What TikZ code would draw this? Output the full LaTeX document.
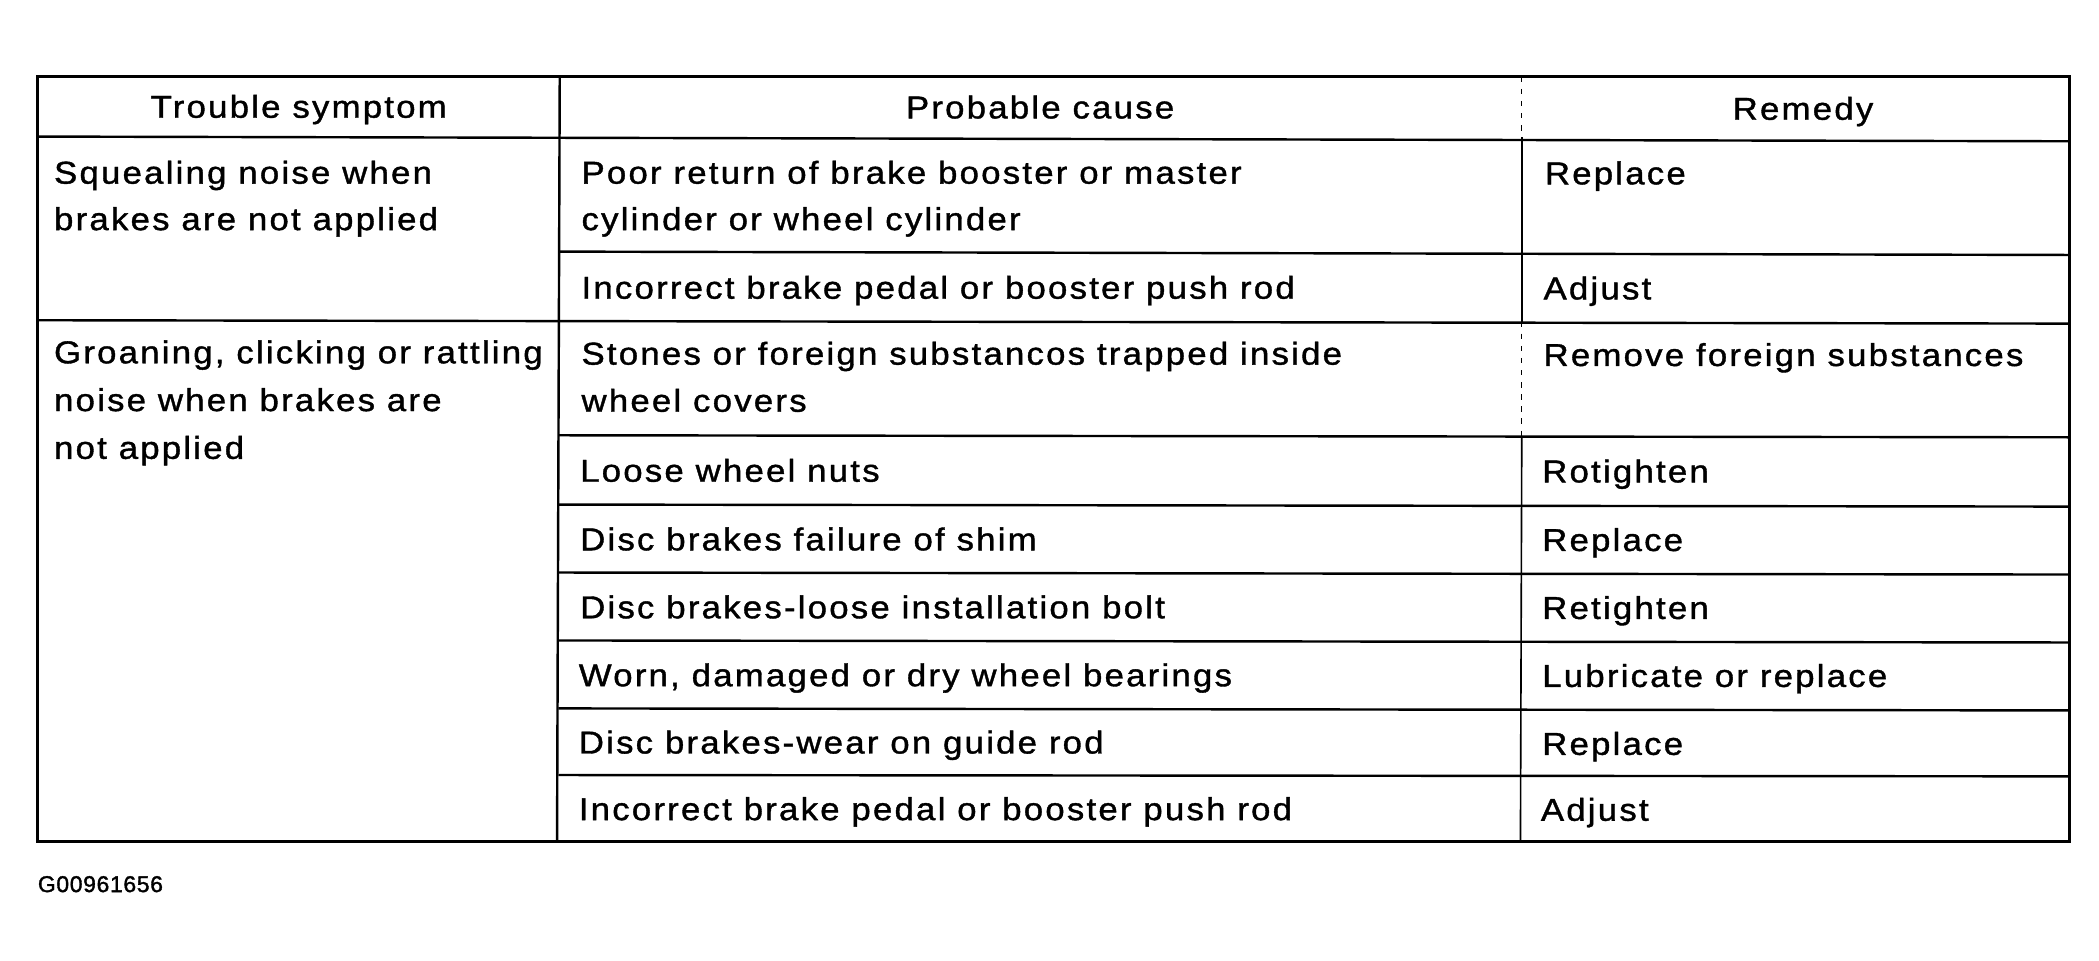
\documentclass[tikz,border=0pt]{standalone}
\usepackage{fontspec}
\setmainfont{Liberation Sans}
\newfontfamily\tabfont[LetterSpace=7,FakeStretch=1.1,FakeBold=1.2]{Liberation Sans}
\newfontfamily\codefont[LetterSpace=3,FakeBold=1.5]{Liberation Sans}
\tikzset{
  cell/.style={anchor=base west, inner sep=0pt, font=\tabfont\fontsize{23.5}{28}\selectfont},
  headcell/.style={anchor=base, inner sep=0pt, font=\tabfont\fontsize{23.5}{28}\selectfont},
  codetext/.style={anchor=base west, inner sep=0pt, font=\codefont\fontsize{17}{20}\selectfont},
  outerline/.style={line width=2.4pt},
  rowrule/.style={line width=1.8pt},
  colrule/.style={line width=1.2pt},
  faintrule/.style={line width=1pt, dash pattern=on 4pt off 5pt}
}
\begin{document}
\begin{tikzpicture}[x=1pt,y=-1pt]
\useasboundingbox (0,0) rectangle (1560,713.5);
% grid
\draw[outerline] (28,57) rectangle (1538,625.5);
\draw[rowrule] (416,57) -- (414,625.5);
\draw[faintrule] (1131,57) -- (1131,102);
\draw[colrule] (1131,102) -- (1131,239);
\draw[faintrule] (1131,239) -- (1131,324);
\draw[colrule] (1131,324) -- (1130,625.5);
\draw[rowrule] (28,101.5) -- (1538,105);
\draw[rowrule] (416,187) -- (1538,189.5);
\draw[rowrule] (28,238) -- (1538,240.5);
\draw[rowrule] (415,323.5) -- (1538,325);
\draw[rowrule] (415,375) -- (1538,376.5);
\draw[rowrule] (415,425.5) -- (1538,427);
\draw[rowrule] (415,476) -- (1538,477.5);
\draw[rowrule] (415,526.5) -- (1538,528);
\draw[rowrule] (415,576) -- (1538,577);
% header
\node[headcell] (hsym) at (222,87.5) {Trouble symptom};
\node[headcell] (hcause) at (773,88) {Probable cause};
\node[headcell] (hrem) at (1340,89) {Remedy};
% symptoms
\node[cell] (s1a) at (40,136.5) {Squealing noise when};
\node[cell] (s1b) at (40,171) {brakes are not applied};
\node[cell] (s2a) at (40,270) {Groaning, clicking or rattling};
\node[cell] (s2b) at (40,305.5) {noise when brakes are};
\node[cell] (s2c) at (40,341) {not applied};
% causes
\node[cell] (c1a) at (432,136.5) {Poor return of brake booster or master};
\node[cell] (c1b) at (432,171) {cylinder or wheel cylinder};
\node[cell] (c2) at (432,222) {Incorrect brake pedal or booster push rod};
\node[cell] (c3a) at (432,271) {Stones or foreign substancos trapped inside};
\node[cell] (c3b) at (432,306) {wheel covers};
\node[cell] (c4) at (431,358) {Loose wheel nuts};
\node[cell] (c5) at (431,409) {Disc brakes failure of shim};
\node[cell] (c6) at (431,459.5) {Disc brakes-loose installation bolt};
\node[cell] (c7) at (430,510) {Worn, damaged or dry wheel bearings};
\node[cell] (c8) at (430,560) {Disc brakes-wear on guide rod};
\node[cell] (c9) at (430,609.5) {Incorrect brake pedal or booster push rod};
% remedies
\node[cell] (r1) at (1148,137) {Replace};
\node[cell] (r2) at (1147,222.5) {Adjust};
\node[cell] (r3) at (1147,272) {Remove foreign substances};
\node[cell] (r4) at (1146,358.5) {Rotighten};
\node[cell] (r5) at (1146,409.5) {Replace};
\node[cell] (r6) at (1146,460) {Retighten};
\node[cell] (r7) at (1146,510.5) {Lubricate or replace};
\node[cell] (r8) at (1146,561) {Replace};
\node[cell] (r9) at (1145,610) {Adjust};
% figure code
\node[codetext] (code) at (28,663) {G00961656};
\end{tikzpicture}
\end{document}
